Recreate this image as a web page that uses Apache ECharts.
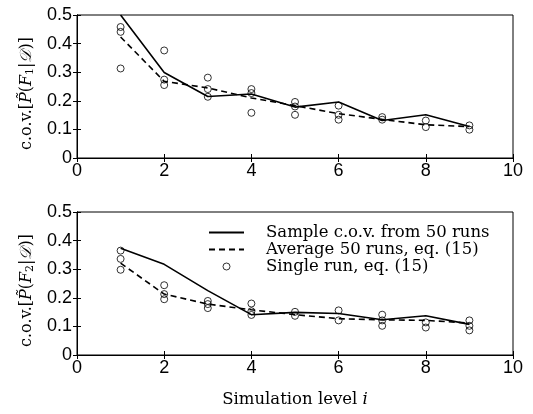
<!DOCTYPE html>
<html>
<head>
<meta charset="utf-8">
<script src="https://cdn.jsdelivr.net/npm/echarts@6/dist/echarts.min.js"></script>
<style>
  html, body { margin: 0; padding: 0; background: #fff; }
  #chart { width: 533px; height: 414px; }
</style>
</head>
<body>
<div id="chart"></div>
<script>
// Simulation levels on the x axis
const levels = [1, 2, 3, 4, 5, 6, 7, 8, 9];
const xTicks = [0, 2, 4, 6, 8, 10];
const yTicks = [0, 0.1, 0.2, 0.3, 0.4, 0.5];

// Failure event F1
const sampleCov1 = [0.5, 0.299, 0.215, 0.224, 0.178, 0.196, 0.131, 0.151, 0.110];
const avgCov1 = [0.423, 0.268, 0.245, 0.210, 0.183, 0.155, 0.135, 0.116, 0.110];
const singleRun1 = [
  [1, 0.458], [1, 0.441], [1, 0.313],
  [2, 0.376], [2, 0.274], [2, 0.255],
  [3, 0.281], [3, 0.241], [3, 0.214],
  [4, 0.241], [4, 0.227], [4, 0.158],
  [5, 0.196], [5, 0.180], [5, 0.151],
  [6, 0.183], [6, 0.151], [6, 0.134],
  [7, 0.143], [7, 0.134],
  [8, 0.131], [8, 0.108],
  [9, 0.114], [9, 0.099]
];

// Failure event F2
const sampleCov2 = [0.373, 0.317, 0.225, 0.141, 0.149, 0.145, 0.123, 0.137, 0.107];
const avgCov2 = [0.321, 0.213, 0.178, 0.158, 0.141, 0.127, 0.123, 0.121, 0.112];
const singleRun2 = [
  [1, 0.365], [1, 0.336], [1, 0.298],
  [2, 0.244], [2, 0.213], [2, 0.195],
  [3, 0.189], [3, 0.178], [3, 0.164],
  [4, 0.180], [4, 0.153], [4, 0.140],
  [5, 0.151], [5, 0.137],
  [6, 0.156], [6, 0.121],
  [7, 0.141], [7, 0.121], [7, 0.102],
  [8, 0.114], [8, 0.096],
  [9, 0.121], [9, 0.102], [9, 0.086]
];

const seriesNames = ['Sample c.o.v. from 50 runs', 'Average 50 runs, eq. (15)', 'Single run, eq. (15)'];

const serif = 'DejaVu Serif';
const sans = 'Liberation Sans';

const grids = [
  { left: 77, top: 15, width: 436, height: 143 },
  { left: 77, top: 212, width: 436, height: 143 }
];

const pair = (xs, ys) => xs.map((x, i) => [x, ys[i]]);

const nameRich = {
  n: { fontFamily: serif, fontSize: 16, color: '#000' },
  i: { fontFamily: serif, fontSize: 16, fontStyle: 'italic', color: '#000' },
  s: { fontFamily: serif, fontSize: 11, color: '#000', padding: [7, 0, 0, 0] }
};
const xNameRich = {
  n: { fontFamily: serif, fontSize: 16.5, color: '#000' },
  i: { fontFamily: serif, fontSize: 16.5, fontStyle: 'italic', color: '#000' }
};

function yName(k) {
  return '{n|c.o.v.[}{i|P\u0303}{n|(}{i|F}{s|' + k + '}{n||}{i|\uD835\uDC9F}{n|)]}';
}

const tickLabel = { fontFamily: sans, fontSize: 18, color: '#000' };
const axisLineStyle = { show: true, lineStyle: { color: '#000', width: 1 } };
const tickStyle = { show: true, inside: true, length: 4, lineStyle: { color: '#000', width: 1 } };

const xAxes = [];
const yAxes = [];
[0, 1].forEach(g => {
  xAxes.push({
    type: 'value', gridIndex: g, position: 'bottom', min: xTicks[0], max: xTicks[xTicks.length - 1], interval: 2,
    axisLine: axisLineStyle, axisTick: tickStyle, splitLine: { show: false },
    axisLabel: Object.assign({ margin: 4 }, tickLabel),
    name: g === 1 ? '{n|Simulation level }{i|i}' : '',
    nameLocation: 'middle', nameGap: 36,
    nameTextStyle: { rich: xNameRich }
  });
  xAxes.push({
    type: 'value', gridIndex: g, position: 'top', min: 0, max: 10, interval: 2,
    axisLine: axisLineStyle, axisTick: tickStyle, splitLine: { show: false },
    axisLabel: { show: false }
  });
  yAxes.push({
    type: 'value', gridIndex: g, position: 'left', min: yTicks[0], max: yTicks[yTicks.length - 1], interval: 0.1,
    axisLine: axisLineStyle, axisTick: tickStyle, splitLine: { show: false },
    axisLabel: Object.assign({ margin: 5, formatter: v => (v === 0 ? '0' : v.toFixed(1)) }, tickLabel),
    name: yName(g === 0 ? '1' : '2'),
    nameLocation: 'middle', nameRotate: 90, nameGap: 31,
    nameTextStyle: { rich: nameRich, padding: [0, 14, 0, 0] }
  });
  yAxes.push({
    type: 'value', gridIndex: g, position: 'right', min: 0, max: 0.5, interval: 0.1,
    axisLine: axisLineStyle, axisTick: tickStyle, splitLine: { show: false },
    axisLabel: { show: false }
  });
});

const ringStyle = { color: 'rgba(0,0,0,0)', borderColor: '#000', borderWidth: 1 };

function panelSeries(g, sample, avg, single) {
  const xi = g * 2, yi = g * 2;
  return [
    {
      name: seriesNames[0], type: 'line', xAxisIndex: xi, yAxisIndex: yi,
      data: pair(levels, sample), symbol: 'none', silent: true,
      lineStyle: { color: '#000', width: 1.6, type: 'solid' }, itemStyle: { color: '#000' }, z: 3
    },
    {
      name: seriesNames[1], type: 'line', xAxisIndex: xi, yAxisIndex: yi,
      data: pair(levels, avg), symbol: 'none', silent: true,
      lineStyle: { color: '#000', width: 1.6, type: [6, 4] }, itemStyle: { color: '#000' }, z: 3
    },
    {
      name: seriesNames[2], type: 'scatter', xAxisIndex: xi, yAxisIndex: yi,
      data: single, symbol: 'circle', symbolSize: 7, silent: true,
      itemStyle: ringStyle, z: 4
    }
  ];
}

const hiddenSymbol = { opacity: 0 };

const chart = echarts.init(document.getElementById('chart'), null, { renderer: 'canvas' });
chart.setOption({
  animation: false,
  backgroundColor: '#fff',
  grid: grids.map(g => Object.assign({ show: true, borderColor: '#000', borderWidth: 1, backgroundColor: 'transparent' }, g)),
  xAxis: xAxes,
  yAxis: yAxes,
  legend: {
    data: [
      { name: seriesNames[0], itemStyle: hiddenSymbol },
      { name: seriesNames[1], itemStyle: hiddenSymbol },
      { name: seriesNames[2], icon: 'circle', itemStyle: ringStyle }
    ],
    orient: 'vertical',
    left: 208, top: 224,
    padding: 0,
    itemGap: 0,
    itemWidth: 35,
    itemHeight: 7,
    selectedMode: false,
    textStyle: { fontFamily: serif, fontSize: 16.5, color: '#000', lineHeight: 15, padding: [0, 0, 0, 17] }
  },
  series: [
    ...panelSeries(0, sampleCov1, avgCov1, singleRun1),
    ...panelSeries(1, sampleCov2, avgCov2, singleRun2)
  ]
});
</script>
</body>
</html>
